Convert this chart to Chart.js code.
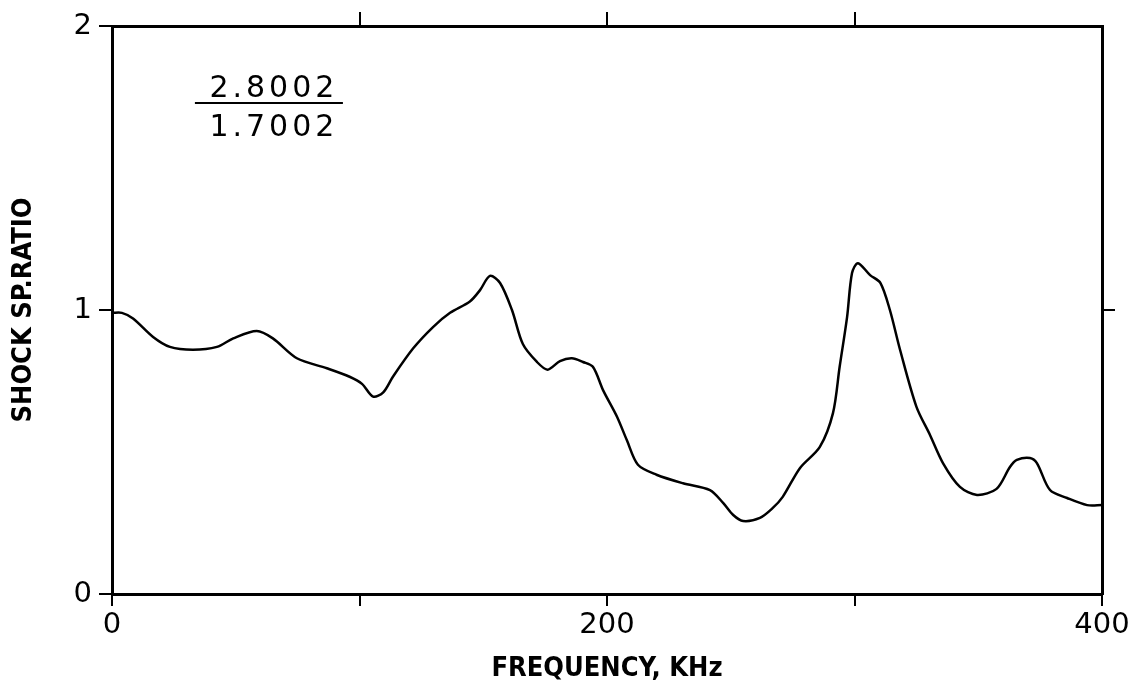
<!DOCTYPE html>
<html>
<head>
<meta charset="utf-8">
<script src="https://cdn.jsdelivr.net/npm/chart.js@4.4.1/dist/chart.umd.min.js"></script>
<style>
  body { margin: 0; background: white; }
  canvas { display: block; }
</style>
</head>
<body>
<canvas id="ratioChart" width="1140" height="689"></canvas>
<script>
// kHz vs shock spectrum ratio
var freq = [0, 4, 8.5, 16.6, 23.4, 32.7, 42.4, 49, 58.5, 65, 74.7, 86.8, 96, 101, 105.5, 109.6,
    113.5, 121.7, 129.7, 136.6, 144.6, 148.7, 152.7, 156.8, 161.6, 166, 171.7, 176, 181, 185.8,
    190.3, 194.3, 198.4, 204, 208, 212.5, 220, 230.7, 241.6, 247, 251, 255, 261.8, 267, 271,
    278, 286, 291.3, 294, 297, 299, 301.4, 306.3, 310.5, 314.3, 318.4, 325, 330.5, 335.8,
    342.6, 349.5, 357.4, 362.8, 365.6, 370.9, 373.7, 379, 385.9, 394, 400]
var ratio = [0.99, 0.99, 0.97, 0.905, 0.87, 0.86, 0.87, 0.9, 0.926, 0.9, 0.83, 0.795, 0.765, 0.74, 0.695, 0.71,
    0.765, 0.865, 0.94, 0.99, 1.03, 1.07, 1.12, 1.095, 1.0, 0.88, 0.817, 0.79, 0.82, 0.83,
    0.817, 0.8, 0.718, 0.625, 0.542, 0.455, 0.42, 0.39, 0.366, 0.32, 0.278, 0.257, 0.268, 0.303, 0.342,
    0.444, 0.518, 0.637, 0.8, 0.975, 1.13, 1.165, 1.123, 1.095, 1.0, 0.86, 0.66, 0.56, 0.46,
    0.377, 0.349, 0.37, 0.447, 0.472, 0.479, 0.461, 0.366, 0.338, 0.313, 0.313]

var xLabels = [0, 200, 400]
var yTicks = [0, 1, 2]
var fracTop = "2.8002"
var fracBottom = "1.7002"

var tickFont = { family: "'DejaVu Sans', sans-serif", size: 29 }
var titleFont = { family: "'DejaVu Sans Condensed', 'Liberation Sans Narrow', 'DejaVu Sans', sans-serif", size: 27, weight: "bold" }
var edge = { color: "#000", width: 3 }

function marks(len){
    return { drawOnChartArea: false, drawTicks: true, tickLength: len, tickColor: "#000", lineWidth: 2 }
}

// the little ratio written in the upper left corner
const fractionLabel = {
    id: "fractionLabel",
    afterDraw(chart) {
        const ctx = chart.ctx
        const x = chart.scales.x
        const y = chart.scales.y
        const cx = x.getPixelForValue(64.6)
        ctx.save()
        ctx.fillStyle = "#000"
        ctx.font = "30px 'DejaVu Sans', sans-serif"
        ctx.textAlign = "center"
        ctx.textBaseline = "middle"
        ctx.letterSpacing = "4px"
        ctx.fillText(fracTop, cx + 2, y.getPixelForValue(1.776))
        ctx.fillText(fracBottom, cx + 2, y.getPixelForValue(1.64))
        ctx.strokeStyle = "#000"
        ctx.lineWidth = 2
        ctx.beginPath()
        ctx.moveTo(x.getPixelForValue(33.5), y.getPixelForValue(1.729))
        ctx.lineTo(x.getPixelForValue(93.3), y.getPixelForValue(1.729))
        ctx.stroke()
        ctx.restore()
    }
}

const ctx = document.getElementById("ratioChart").getContext("2d")
chart = new Chart(ctx, {
    type: "line",
    data: {
        datasets: [{
            data: freq.map((f, i) => ({ x: f, y: ratio[i] })),
            borderColor: "#000",
            borderWidth: 2.5,
            pointRadius: 0,
            tension: 0.3,
            fill: false
        }]
    },
    options: {
        responsive: false,
        animation: false,
        layout: { padding: 0 },
        plugins: {
            legend: { display: false },
            tooltip: { enabled: false }
        },
        scales: {
            x: {
                type: "linear",
                position: "bottom",
                min: 0,
                max: 400,
                ticks: {
                    stepSize: 100,
                    autoSkip: false,
                    maxRotation: 0,
                    color: "#000",
                    font: tickFont,
                    padding: 2,
                    callback: v => xLabels.includes(v) ? v : ""
                },
                grid: marks(12),
                border: edge,
                title: {
                    display: true,
                    text: "FREQUENCY, KHz",
                    color: "#000",
                    font: titleFont,
                    padding: { top: 0, bottom: 4 }
                },
                afterFit: s => { s.height = 95 }
            },
            x2: {
                type: "linear",
                position: "top",
                min: 0,
                max: 400,
                ticks: { display: false, stepSize: 100 },
                afterBuildTicks: s => { s.ticks = s.ticks.filter(t => t.value > 0 && t.value < 400) },
                grid: marks(14),
                border: edge,
                afterFit: s => { s.height = 26 }
            },
            y: {
                position: "left",
                min: 0,
                max: 2,
                afterBuildTicks: s => { s.ticks = yTicks.map(v => ({ value: v })) },
                ticks: { color: "#000", font: tickFont, padding: 7 },
                grid: marks(13),
                border: edge,
                title: {
                    display: true,
                    text: "SHOCK SP.RATIO",
                    color: "#000",
                    font: titleFont,
                    padding: { top: 8, bottom: 0 }
                },
                afterFit: s => { s.width = 112 }
            },
            y2: {
                position: "right",
                min: 0,
                max: 2,
                ticks: { display: false },
                afterBuildTicks: s => { s.ticks = [{ value: 1 }] },
                grid: marks(13),
                border: edge,
                afterFit: s => { s.width = 38 }
            }
        }
    },
    plugins: [fractionLabel]
})
</script>
</body>
</html>
